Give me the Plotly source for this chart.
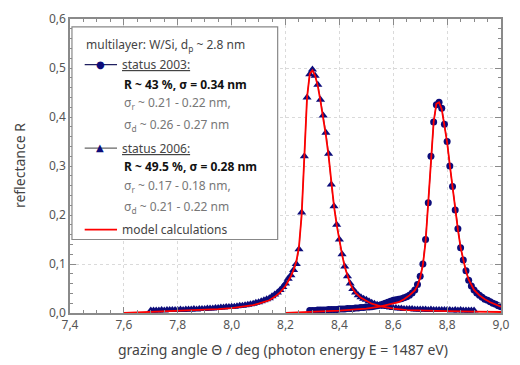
import plotly.graph_objects as go

# ---- data: status 2006 (triangles) ----
x2006 = [7.70, 7.71, 7.72, 7.73, 7.74, 7.75, 7.76, 7.77, 7.78, 7.79,
         7.80, 7.81, 7.82, 7.83, 7.84, 7.85, 7.86, 7.87, 7.88, 7.89,
         7.90, 7.91, 7.92, 7.93, 7.94, 7.95, 7.96, 7.97, 7.98, 7.99,
         8.00, 8.01, 8.02, 8.03, 8.04, 8.05, 8.06, 8.07, 8.08, 8.09,
         8.10, 8.11, 8.12, 8.13, 8.14, 8.15, 8.16, 8.17, 8.18, 8.19,
         8.20, 8.21, 8.22, 8.23, 8.24, 8.25, 8.26, 8.27, 8.28, 8.29,
         8.30, 8.31, 8.32, 8.33, 8.34, 8.35, 8.36, 8.37, 8.38, 8.39,
         8.40, 8.41, 8.42, 8.43, 8.44, 8.45, 8.46, 8.47, 8.48, 8.49,
         8.50, 8.51, 8.52, 8.53, 8.54, 8.55, 8.56, 8.57, 8.58, 8.59,
         8.60, 8.61, 8.62, 8.63, 8.64, 8.65, 8.66, 8.67, 8.68, 8.69,
         8.70, 8.71, 8.72, 8.73, 8.74, 8.75, 8.76, 8.77, 8.78, 8.79,
         8.80, 8.81, 8.82, 8.83, 8.84, 8.85, 8.86, 8.87, 8.88, 8.89, 8.90]
r2006 = [0.005, 0.005, 0.005, 0.005, 0.006, 0.005, 0.006, 0.006, 0.006, 0.006,
         0.006, 0.007, 0.006, 0.007, 0.007, 0.007, 0.008, 0.007, 0.008, 0.008,
         0.008, 0.009, 0.009, 0.009, 0.010, 0.010, 0.011, 0.011, 0.012, 0.012,
         0.013, 0.013, 0.014, 0.015, 0.015, 0.016, 0.017, 0.018, 0.019, 0.021,
         0.022, 0.024, 0.026, 0.028, 0.030, 0.034, 0.038, 0.042, 0.047, 0.053,
         0.060, 0.070, 0.077, 0.088, 0.100, 0.130, 0.205, 0.320, 0.440, 0.487,
         0.497, 0.484, 0.466, 0.435, 0.403, 0.368, 0.325, 0.262, 0.218, 0.180,
         0.150, 0.120, 0.095, 0.075, 0.060, 0.049, 0.042, 0.036, 0.032, 0.029,
         0.027, 0.024, 0.021, 0.019, 0.017, 0.016, 0.014, 0.013, 0.012, 0.011,
         0.010, 0.010, 0.009, 0.009, 0.008, 0.008, 0.008, 0.008, 0.007, 0.007,
         0.007, 0.007, 0.007, 0.006, 0.007, 0.006, 0.006, 0.006, 0.006, 0.006,
         0.006, 0.006, 0.005, 0.006, 0.005, 0.006, 0.005, 0.005, 0.005, 0.005, 0.005]

# ---- data: status 2003 (circles) ----
x2003 = [8.29, 8.30, 8.31, 8.32, 8.33, 8.34, 8.35, 8.36, 8.37, 8.38, 8.39,
         8.40, 8.41, 8.42, 8.43, 8.44, 8.45, 8.46, 8.47, 8.48, 8.49,
         8.50, 8.51, 8.52, 8.53, 8.54, 8.55, 8.56, 8.57, 8.58, 8.59,
         8.60, 8.61, 8.62, 8.63, 8.64, 8.65, 8.66, 8.67, 8.68, 8.69,
         8.70, 8.71, 8.72, 8.73, 8.74, 8.75, 8.76, 8.77, 8.78, 8.79,
         8.80, 8.81, 8.82, 8.83, 8.84, 8.85, 8.86, 8.87, 8.88, 8.89,
         8.90, 8.91, 8.92, 8.93, 8.94, 8.95, 8.96, 8.97, 8.98, 8.99, 9.00]
r2003 = [0.005, 0.005, 0.005, 0.006, 0.006, 0.006, 0.006, 0.007, 0.007, 0.007, 0.007,
         0.008, 0.008, 0.008, 0.009, 0.009, 0.009, 0.010, 0.010, 0.011, 0.011,
         0.012, 0.012, 0.013, 0.014, 0.015, 0.016, 0.018, 0.020, 0.022, 0.024,
         0.026, 0.027, 0.028, 0.029, 0.031, 0.033, 0.036, 0.041, 0.047, 0.058,
         0.075, 0.100, 0.150, 0.225, 0.320, 0.390, 0.425, 0.430, 0.418, 0.385,
         0.350, 0.300, 0.258, 0.210, 0.172, 0.133, 0.108, 0.086, 0.067, 0.055,
         0.047, 0.041, 0.036, 0.032, 0.028, 0.026, 0.023, 0.020, 0.018, 0.015, 0.013]

# ---- model calculations ----
xm2006 = [7.60, 7.65, 7.70, 7.75, 7.80, 7.85, 7.90, 7.95, 8.00, 8.05, 8.08,
          8.10, 8.12, 8.14, 8.16, 8.18, 8.20, 8.21, 8.22, 8.23, 8.24, 8.25,
          8.26, 8.27, 8.28, 8.29, 8.30, 8.31, 8.32, 8.33, 8.34, 8.35, 8.36,
          8.37, 8.38, 8.39, 8.40, 8.41, 8.42, 8.43, 8.44, 8.45, 8.46, 8.48,
          8.50, 8.52, 8.55, 8.60, 8.65, 8.70, 8.80, 8.90, 9.00]
rm2006 = [0.000, 0.001, 0.003, 0.004, 0.005, 0.006, 0.007, 0.008, 0.010, 0.013, 0.016,
          0.019, 0.022, 0.026, 0.033, 0.042, 0.055, 0.064, 0.075, 0.088, 0.105, 0.135,
          0.200, 0.320, 0.440, 0.488, 0.495, 0.484, 0.463, 0.432, 0.398, 0.362, 0.320,
          0.262, 0.218, 0.180, 0.148, 0.119, 0.094, 0.075, 0.060, 0.049, 0.041, 0.031,
          0.025, 0.019, 0.014, 0.009, 0.006, 0.005, 0.004, 0.003, 0.002]
xm2003 = [8.20, 8.25, 8.30, 8.35, 8.40, 8.45, 8.50, 8.55, 8.58, 8.60, 8.62,
          8.64, 8.66, 8.68, 8.69, 8.70, 8.71, 8.72, 8.73, 8.74, 8.75, 8.76,
          8.77, 8.78, 8.79, 8.80, 8.81, 8.82, 8.83, 8.84, 8.85, 8.86, 8.87,
          8.88, 8.89, 8.90, 8.92, 8.94, 8.96, 8.98, 9.00]
rm2003 = [0.000, 0.001, 0.003, 0.004, 0.005, 0.007, 0.009, 0.013, 0.017, 0.020, 0.022,
          0.028, 0.036, 0.046, 0.056, 0.072, 0.098, 0.145, 0.220, 0.315, 0.390, 0.427,
          0.430, 0.416, 0.385, 0.348, 0.302, 0.256, 0.210, 0.170, 0.134, 0.106, 0.085,
          0.068, 0.056, 0.047, 0.036, 0.028, 0.022, 0.017, 0.013]

# legend text lines
legend_lines = [
    "multilayer: W/Si, d<sub>p</sub> ~ 2.8 nm",
    "<u>status 2003:</u>",
    "<b>R ~ 43 %, σ = 0.34 nm</b>",
    "σ<sub>r</sub> ~ 0.21 - 0.22 nm,",
    "σ<sub>d</sub> ~ 0.26 - 0.27 nm",
    "<u>status 2006:</u>",
    "<b>R ~ 49.5 %, σ = 0.28 nm</b>",
    "σ<sub>r</sub> ~ 0.17 - 0.18 nm,",
    "σ<sub>d</sub> ~ 0.21 - 0.22 nm",
    "model calculations",
]
x_title = "grazing angle Θ / deg (photon energy E = 1487 eV)"
y_title = "reflectance R"

NAVY = "#0c0c7a"
FONT = "Noto Sans"

fig = go.Figure()
fig.add_trace(go.Scatter(x=x2006, y=r2006, mode="lines+markers",
                         line=dict(color="#666666", width=1),
                         marker=dict(symbol="triangle-up", size=8, color=NAVY),
                         showlegend=False))
fig.add_trace(go.Scatter(x=x2003, y=r2003, mode="lines+markers",
                         line=dict(color="#202060", width=1),
                         marker=dict(symbol="circle", size=7, color=NAVY),
                         showlegend=False))
fig.add_trace(go.Scatter(x=xm2006, y=rm2006, mode="lines",
                         line=dict(color="#ff0000", width=1.8), showlegend=False))
fig.add_trace(go.Scatter(x=xm2003, y=rm2003, mode="lines",
                         line=dict(color="#ff0000", width=1.8), showlegend=False))

# plot area in pixels: left 70, right 510, top 17, bottom 313
L, R, T, B = 70, 510, 17, 313
def px(x):
    return (x - L) / (R - L)
def py(y):
    return (B - y) / (B - T)

# legend box
fig.add_shape(type="rect", xref="paper", yref="paper",
              x0=px(72), x1=px(282), y0=py(239), y1=py(25),
              line=dict(color="#888888", width=1.2), fillcolor="white", layer="above")

ys = [43, 63, 83, 102, 124, 147, 166, 185, 206, 229]
xs = [84, 121, 123, 123, 123, 121, 123, 123, 123, 121]
colors = ["#444444", "#444444", "#111111", "#777777", "#777777",
          "#444444", "#111111", "#777777", "#777777", "#444444"]
for t, yy, xx, c in zip(legend_lines, ys, xs, colors):
    fig.add_annotation(text=t, xref="paper", yref="paper", x=px(xx), y=py(yy),
                       xanchor="left", yanchor="middle", showarrow=False,
                       font=dict(family=FONT, size=12, color=c))

# legend symbols
for yy, col in [(63, "#202060"), (147, "#666666")]:
    fig.add_shape(type="line", xref="paper", yref="paper",
                  x0=px(85), x1=px(118), y0=py(yy), y1=py(yy),
                  line=dict(color=col, width=1.2), layer="above")
fig.add_shape(type="line", xref="paper", yref="paper",
              x0=px(85), x1=px(118), y0=py(229), y1=py(229),
              line=dict(color="#ff0000", width=1.8), layer="above")
fig.add_annotation(text="●", xref="paper", yref="paper", x=px(101), y=py(63),
                   xanchor="center", yanchor="middle", showarrow=False,
                   font=dict(family="DejaVu Sans", size=10, color=NAVY))
fig.add_annotation(text="▲", xref="paper", yref="paper", x=px(101), y=py(146),
                   xanchor="center", yanchor="middle", showarrow=False,
                   font=dict(family="DejaVu Sans", size=10, color=NAVY))

# axis titles
fig.add_annotation(text=y_title, xref="paper", yref="paper", x=px(18), y=py(165),
                   xanchor="center", yanchor="middle", showarrow=False, textangle=-90,
                   font=dict(family=FONT, size=14, color="#444444"))
fig.add_annotation(text=x_title, xref="paper", yref="paper", x=px(287), y=py(350),
                   xanchor="center", yanchor="middle", showarrow=False,
                   font=dict(family=FONT, size=14, color="#444444"))

axis_common = dict(showline=True, linecolor="#8a8a8a", linewidth=1.5, mirror="allticks",
                   ticks="inside", tickcolor="#8a8a8a", ticklen=6, tickwidth=1,
                   showgrid=True, gridcolor="#dadada", griddash="dot", gridwidth=1,
                   zeroline=False, ticklabeloverflow="allow",
                   tickfont=dict(family=FONT, size=12, color="#555555"))

fig.update_layout(
    width=520, height=365,
    margin=dict(l=L, r=520 - R, t=T, b=365 - B),
    plot_bgcolor="white", paper_bgcolor="white",
    separators=",.",
    showlegend=False,
    font=dict(family=FONT, color="#444444"),
    xaxis=dict(range=[7.4, 9.0], tick0=7.4, dtick=0.2, tickformat=".1f",
               minor=dict(dtick=0.05, ticks="inside", ticklen=3, tickcolor="#8a8a8a", showgrid=False),
               **axis_common),
    yaxis=dict(range=[0, 0.6], tick0=0, dtick=0.1, tickformat=".1f",
               minor=dict(dtick=0.02, ticks="inside", ticklen=3, tickcolor="#8a8a8a", showgrid=False),
               **axis_common),
)

fig.write_html("out.html", config={"displayModeBar": False},
               post_script="document.body.style.margin='0';")
